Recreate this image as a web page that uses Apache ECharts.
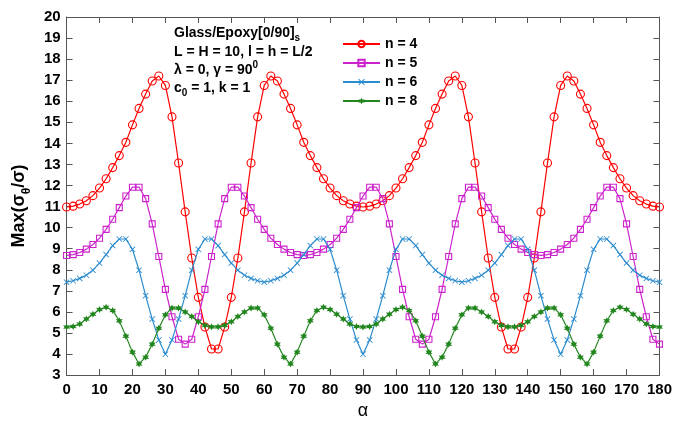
<!DOCTYPE html>
<html><head><meta charset="utf-8">
<script src="https://cdn.jsdelivr.net/npm/echarts@6/dist/echarts.min.js"></script>
<style>html,body{margin:0;padding:0;background:#fff}#c{width:675px;height:425px}</style>
</head><body><div id="c"></div>
<script>
const alpha = [0,2,4,6,8,10,12,14,16,18,20,22,24,26,28,30,32,34,36,38,40,42,44,46,48,50,52,54,56,58,60,62,64,66,68,70,72,74,76,78,80,82,84,86,88,90,92,94,96,98,100,102,104,106,108,110,112,114,116,118,120,122,124,126,128,130,132,134,136,138,140,142,144,146,148,150,152,154,156,158,160,162,164,166,168,170,172,174,176,178,180];

const n4 = [10.98,11.02,11.12,11.28,11.52,11.88,12.32,12.85,13.42,14.05,14.88,15.66,16.34,16.96,17.2,16.75,15.26,13.07,10.75,8.56,6.69,5.28,4.24,4.24,5.28,6.69,8.56,10.75,13.07,15.26,16.75,17.2,16.96,16.34,15.66,14.88,14.05,13.42,12.85,12.32,11.88,11.52,11.28,11.12,11.02,10.98,
11.02,11.12,11.28,11.52,11.88,12.32,12.85,13.42,14.05,14.88,15.66,16.34,16.96,17.2,16.75,15.26,13.07,10.75,8.56,6.69,5.28,4.24,4.24,5.28,6.69,8.56,10.75,13.07,15.26,16.75,17.2,16.96,16.34,15.66,14.88,14.05,13.42,12.85,12.32,11.88,11.52,11.28,11.12,11.02,10.98];

const n5 = [8.68,8.72,8.82,8.98,9.2,9.5,9.92,10.4,10.95,11.5,11.92,11.92,11.38,10.18,8.63,7.07,5.77,4.7,4.47,
4.7,5.77,7.07,8.63,10.18,11.38,11.92,11.92,11.5,10.95,10.4,9.92,9.5,9.2,8.98,8.82,8.72,8.68,
8.72,8.82,8.98,9.2,9.5,9.92,10.4,10.95,11.5,11.92,11.92,11.38,10.18,8.63,7.07,5.77,4.7,4.47,
4.7,5.77,7.07,8.63,10.18,11.38,11.92,11.92,11.5,10.95,10.4,9.92,9.5,9.2,8.98,8.82,8.72,8.68,
8.72,8.82,8.98,9.2,9.5,9.92,10.4,10.95,11.5,11.92,11.92,11.38,10.18,8.63,7.07,5.77,4.7,4.47];

const n6 = [7.41,7.48,7.59,7.74,7.98,8.32,8.72,9.15,9.46,9.46,8.97,7.98,6.77,5.66,4.67,3.99,4.67,5.66,6.77,7.98,8.97,9.46,9.46,9.15,8.72,8.32,7.98,7.74,7.59,7.48,7.41,
7.48,7.59,7.74,7.98,8.32,8.72,9.15,9.46,9.46,8.97,7.98,6.77,5.66,4.67,3.99,4.67,5.66,6.77,7.98,8.97,9.46,9.46,9.15,8.72,8.32,7.98,7.74,7.59,7.48,7.41,
7.48,7.59,7.74,7.98,8.32,8.72,9.15,9.46,9.46,8.97,7.98,6.77,5.66,4.67,3.99,4.67,5.66,6.77,7.98,8.97,9.46,9.46,9.15,8.72,8.32,7.98,7.74,7.59,7.48,7.41];

const n8 = [5.28,5.31,5.43,5.66,5.89,6.11,6.22,6.07,5.58,4.85,4.09,3.53,3.85,4.47,5.22,5.87,6.19,6.18,6.0,5.78,5.53,5.36,5.29,
5.29,5.36,5.53,5.78,6.0,6.18,6.19,5.87,5.22,4.47,3.85,3.53,4.09,4.85,5.58,6.07,6.22,6.11,5.89,5.66,5.43,5.31,5.28,
5.31,5.43,5.66,5.89,6.11,6.22,6.07,5.58,4.85,4.09,3.53,3.85,4.47,5.22,5.87,6.19,6.18,6.0,5.78,5.53,5.36,5.29,
5.29,5.36,5.53,5.78,6.0,6.18,6.19,5.87,5.22,4.47,3.85,3.53,4.09,4.85,5.58,6.07,6.22,6.11,5.89,5.66,5.43,5.31,5.28];

const seriesNames = ['n = 4','n = 5','n = 6','n = 8'];
const seriesValues = [n4, n5, n6, n8];
const colors = ['#FF0000','#CC22CC','#2A8BCF','#22861E'];

const FONT = "'Liberation Sans', Arial, sans-serif";
const xPath = 'path://M0,1 L1,0 L5,4 L9,0 L10,1 L6,5 L10,9 L9,10 L5,6 L1,10 L0,9 L4,5 Z';
const starPath = 'path://M5,0 L6.25,2.835 L9.33,2.5 L7.5,5 L9.33,7.5 L6.25,7.165 L5,10 L3.75,7.165 L0.67,7.5 L2.5,5 L0.67,2.5 L3.75,2.835 Z';
const symbols = ['circle','rect',xPath,starPath];
const sizes = [8,6,6,7];
const hollow = [true,true,false,false];

const chart = echarts.init(document.getElementById('c'), null, {renderer:'canvas'});

const series = seriesNames.map((nm,k)=>({
  name: nm, type:'line',
  data: alpha.map((a,i)=>[a, seriesValues[k][i]]),
  symbol: symbols[k], symbolSize: sizes[k], showSymbol:true, showAllSymbol:true,
  lineStyle:{color:colors[k], width:1.2},
  itemStyle: hollow[k] ? {color:'rgba(255,255,255,0)', borderColor:colors[k], borderWidth:1.1} : {color:colors[k]},
  emphasis:{disabled:true}, animation:false, z: 2 + k
}));

const axisCommon = {
  axisLine:{show:true, onZero:false, lineStyle:{color:'#555', width:1}},
  axisTick:{show:true, inside:true, length:6, lineStyle:{color:'#555'}},
  splitLine:{show:false}
};
const labelStyle = {color:'#000', fontWeight:'bold', fontSize:15, fontFamily:FONT};

const rich = {
  m:{fontSize:14, fontWeight:'bold', fontFamily:FONT, color:'#000', lineHeight:18, verticalAlign:'top', padding:[3,0,0,0]},
  s:{fontSize:10, fontWeight:'bold', fontFamily:FONT, color:'#000', lineHeight:10, verticalAlign:'top', padding:[10,0,0,0]},
  p:{fontSize:10, fontWeight:'bold', fontFamily:FONT, color:'#000', lineHeight:10, verticalAlign:'top', padding:[0,0,0,0]}
};

chart.setOption({
  backgroundColor:'#fff',
  animation:false,
  grid:{left:63, right:12, top:17, bottom:35, containLabel:false},
  legend:{
    data: seriesNames, orient:'vertical', left:337, top:32,
    itemWidth:37, itemHeight:8, itemGap:5,
    textStyle:{color:'#000', fontWeight:'bold', fontSize:14, fontFamily:FONT},
    backgroundColor:'rgba(0,0,0,0)'
  },
  xAxis:[
    Object.assign({type:'value', min:0, max:180, interval:10, position:'bottom',
      axisLabel:Object.assign({margin:7}, labelStyle),
      name:'α', nameLocation:'middle', nameGap:25,
      nameTextStyle:{color:'#000', fontSize:18, fontFamily:FONT}}, axisCommon),
    Object.assign({type:'value', min:0, max:180, interval:10, position:'top',
      axisLabel:{show:false}}, axisCommon)
  ],
  yAxis:[
    Object.assign({type:'value', min:3, max:20, interval:1, position:'left',
      axisLabel:Object.assign({margin:6}, labelStyle),
      name:'{a|Max(σ}{b|θ}{a|/σ)}', nameLocation:'middle', nameGap:36, nameRotate:90,
      nameTextStyle:{padding:[0,20,0,0], rich:{
        a:{color:'#000', fontWeight:'bold', fontSize:18, fontFamily:FONT, lineHeight:22, verticalAlign:'top', padding:[2,0,0,0]},
        b:{color:'#000', fontWeight:'bold', fontSize:12, fontFamily:FONT, lineHeight:12, verticalAlign:'top', padding:[13,0,0,0]}
      }}}, axisCommon),
    Object.assign({type:'value', min:3, max:20, interval:1, position:'right',
      axisLabel:{show:false}}, axisCommon)
  ],
  graphic:[
    {type:'text', left:174, top:23, style:{text:'{m|Glass/Epoxy[0/90]}{s|s}', rich:rich}},
    {type:'text', left:174, top:42, style:{text:'{m|L = H = 10, l = h = L/2}', rich:rich}},
    {type:'text', left:174, top:60, style:{text:'{m|λ = 0, γ = 90}{p|0}', rich:rich}},
    {type:'text', left:174, top:78, style:{text:'{m|c}{s|0}{m| = 1, k = 1}', rich:rich}}
  ],
  series: series
});
</script>
</body></html>
